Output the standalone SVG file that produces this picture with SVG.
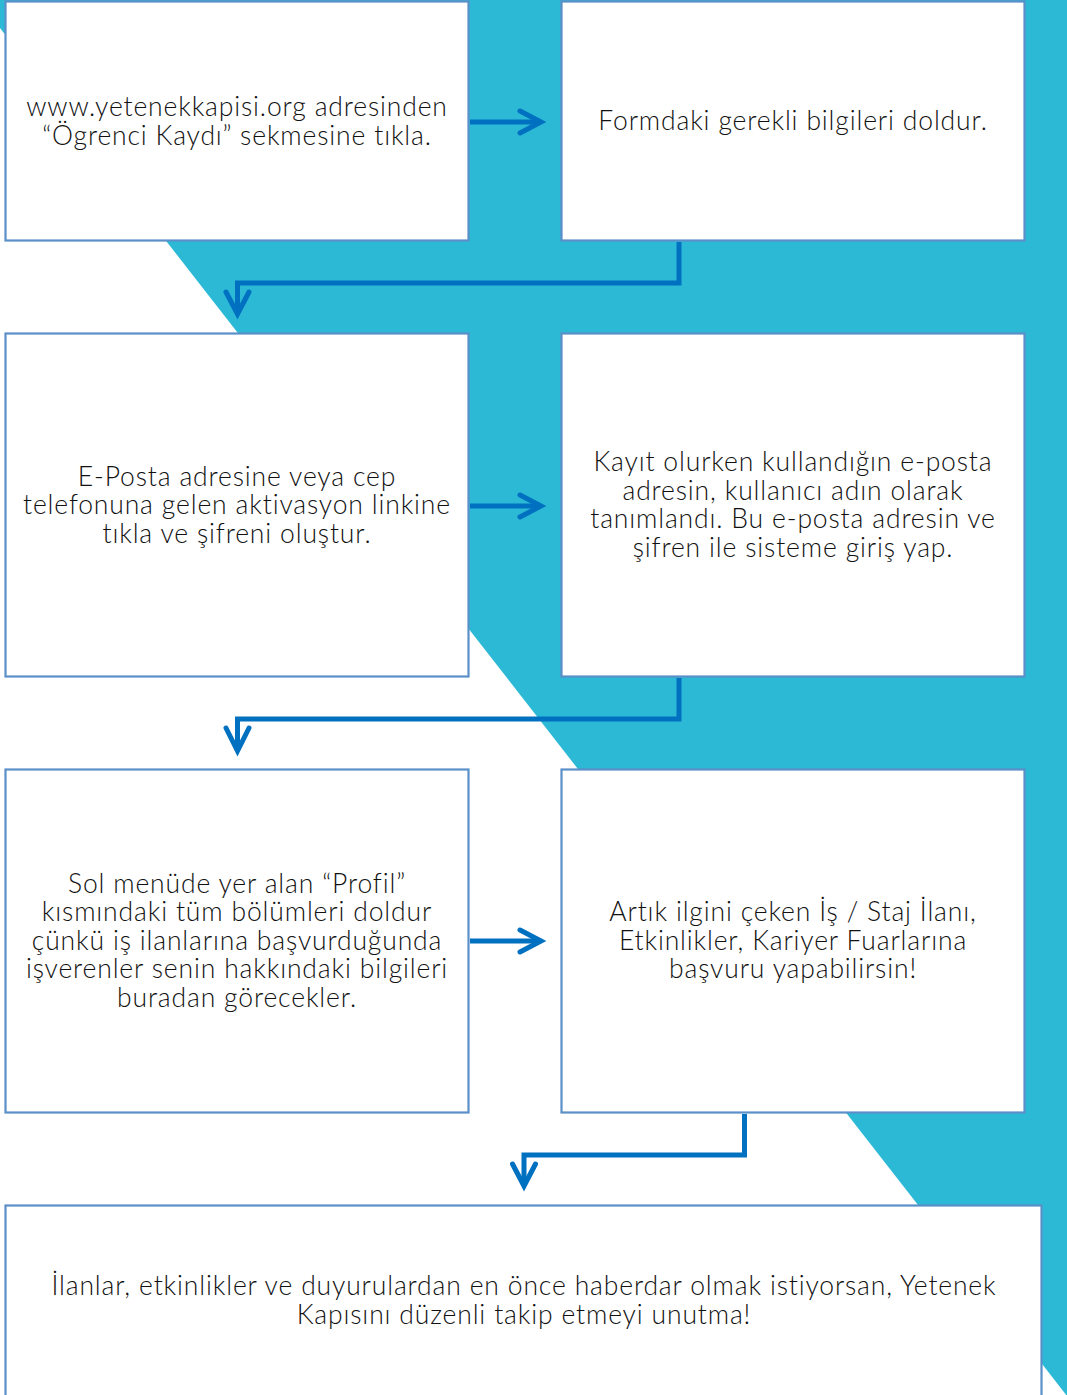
<svg xmlns="http://www.w3.org/2000/svg" width="1067" height="1395" viewBox="0 0 1067 1395">
<defs>
<style>
.box{fill:#ffffff;stroke:#5b8fc8;stroke-width:2.2}
.t{font-family:Lato,"Noto Sans",sans-serif;font-size:26.5px;fill:#111111;text-anchor:middle;font-weight:300;letter-spacing:0.85px;font-variant-ligatures:none}
.c{fill:none;stroke:#0070c0;stroke-width:5}
.h{fill:none;stroke:#0070c0;stroke-width:5;stroke-linecap:round;stroke-linejoin:miter}
</style>
</defs>
<rect x="0" y="0" width="1067" height="1395" fill="#ffffff"/>
<polygon points="0,0 1067,0 1067,1396 0,28" fill="#2cb9d6"/>
<g id="connectors">
<line class="c" x1="470" y1="122" x2="541" y2="122"/>
<polyline class="h" points="520,111 541,122 520,133"/>
<line class="c" x1="470" y1="506" x2="541" y2="506"/>
<polyline class="h" points="520,495 541,506 520,517"/>
<line class="c" x1="470" y1="941" x2="541" y2="941"/>
<polyline class="h" points="520,930 541,941 520,952"/>
<polyline class="c" points="679,242 679,283 237.5,283 237.5,313"/>
<polyline class="h" points="226,292 237.5,314 249,292"/>
<polyline class="c" points="679,678 679,719 237.5,719 237.5,750"/>
<polyline class="h" points="226,728 237.5,751 249,728"/>
<polyline class="c" points="744.5,1114 744.5,1155 524,1155 524,1185"/>
<polyline class="h" points="512.5,1164 524,1186 535.5,1164"/>
</g>
<g id="n1">
<rect class="box" x="5.5" y="1.5" width="463" height="239"/>
<text class="t" x="237" y="116">www.yetenekkapisi.org adresinden</text>
<text class="t" x="237" y="145">“Ögrenci Kaydı” sekmesine tıkla.</text>
</g>
<g id="n2">
<rect class="box" x="561.5" y="1.5" width="463" height="239"/>
<text class="t" x="793" y="130">Formdaki gerekli bilgileri doldur.</text>
</g>
<g id="n3">
<rect class="box" x="5.5" y="333.5" width="463" height="343"/>
<text class="t" x="237" y="486">E-Posta adresine veya cep</text>
<text class="t" x="237" y="514">telefonuna gelen aktivasyon linkine</text>
<text class="t" x="237" y="543">tıkla ve şifreni oluştur.</text>
</g>
<g id="n4">
<rect class="box" x="561.5" y="333.5" width="463" height="343"/>
<text class="t" x="793" y="471">Kayıt olurken kullandığın e-posta</text>
<text class="t" x="793" y="500">adresin, kullanıcı adın olarak</text>
<text class="t" x="793" y="528">tanımlandı. Bu e-posta adresin ve</text>
<text class="t" x="793" y="557">şifren ile sisteme giriş yap.</text>
</g>
<g id="n5">
<rect class="box" x="5.5" y="769.5" width="463" height="343"/>
<text class="t" x="237" y="893">Sol menüde yer alan “Profil”</text>
<text class="t" x="237" y="921">kısmındaki tüm bölümleri doldur</text>
<text class="t" x="237" y="950">çünkü iş ilanlarına başvurduğunda</text>
<text class="t" x="237" y="978">işverenler senin hakkındaki bilgileri</text>
<text class="t" x="237" y="1007">buradan görecekler.</text>
</g>
<g id="n6">
<rect class="box" x="561.5" y="769.5" width="463" height="343"/>
<text class="t" x="793" y="921">Artık ilgini çeken İş / Staj İlanı,</text>
<text class="t" x="793" y="950">Etkinlikler, Kariyer Fuarlarına</text>
<text class="t" x="793" y="978">başvuru yapabilirsin!</text>
</g>
<g id="n7">
<rect class="box" x="5.5" y="1205.5" width="1036" height="200"/>
<text class="t" x="524" y="1295">İlanlar, etkinlikler ve duyurulardan en önce haberdar olmak istiyorsan, Yetenek</text>
<text class="t" x="524" y="1324">Kapısını düzenli takip etmeyi unutma!</text>
</g>
</svg>
